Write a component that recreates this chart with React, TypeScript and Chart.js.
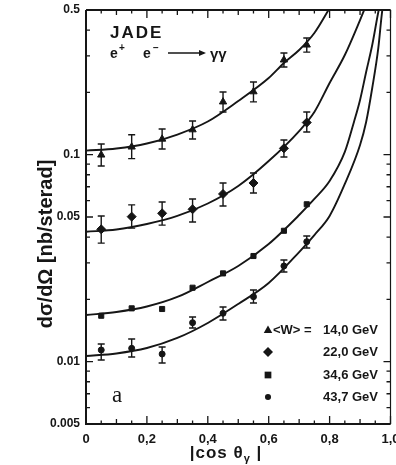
import React, { useEffect, useRef } from "react";
import { Chart, registerables } from "chart.js";

Chart.register(...registerables);

// ---- data ----
const xBins = [0.05, 0.15, 0.25, 0.35, 0.45, 0.55, 0.65, 0.725];

const w140 = [0.0997, 0.109, 0.119, 0.132, 0.18, 0.2015, 0.287, 0.339];
const w140Hi = [0.1127, 0.1249, 0.133, 0.1455, 0.2009, 0.2245, 0.31, 0.366];
const w140Lo = [0.0882, 0.0957, 0.1066, 0.119, 0.1608, 0.18, 0.265, 0.313];

const w220 = [0.0436, 0.0502, 0.0521, 0.0545, 0.0646, 0.073, 0.1073, 0.143];
const w220Hi = [0.0506, 0.0572, 0.0591, 0.0611, 0.073, 0.0816, 0.1178, 0.1608];
const w220Lo = [0.0374, 0.0442, 0.0457, 0.0473, 0.0565, 0.0653, 0.0975, 0.1287];

const w346 = [0.01667, 0.0181, 0.01797, 0.02277, 0.0267, 0.0324, 0.0429, 0.0576];

const w437 = [0.01139, 0.0116, 0.01089, 0.01543, 0.01713, 0.0206, 0.029, 0.038];
const w437Hi = [0.01218, 0.01287, 0.01178, 0.01644, 0.01837, 0.0222, 0.031, 0.0405];
const w437Lo = [0.01019, 0.01053, 0.00986, 0.01455, 0.0159, 0.0192, 0.0271, 0.0354];

const fitX140 = [0, 0.1, 0.2, 0.3, 0.4, 0.5, 0.6, 0.65, 0.7, 0.75, 0.8];
const fit140 = [0.1046, 0.1071, 0.1132, 0.1251, 0.1446, 0.1817, 0.2347, 0.2773, 0.3204, 0.3871, 0.51];

const fitX220 = [0, 0.1, 0.2, 0.3, 0.4, 0.5, 0.6, 0.7, 0.75, 0.8, 0.85, 0.9, 0.92];
const fit220 = [0.04246, 0.0435, 0.04626, 0.0506, 0.0581, 0.0706, 0.0932, 0.1301, 0.1608, 0.222, 0.303, 0.447, 0.528];

const fitX346 = [0, 0.1, 0.2, 0.3, 0.4, 0.5, 0.6, 0.7, 0.75, 0.8, 0.85, 0.88, 0.9, 0.92, 0.94, 0.96, 0.965];
const fit346 = [0.01681, 0.01738, 0.01847, 0.02054, 0.02427, 0.029, 0.03704, 0.0511, 0.0611, 0.0746, 0.1031, 0.1439, 0.1837, 0.2509, 0.3387, 0.489, 0.528];

const fitX437 = [0, 0.1, 0.2, 0.3, 0.4, 0.5, 0.6, 0.7, 0.75, 0.8, 0.85, 0.9, 0.92, 0.94, 0.96, 0.97, 0.975];
const fit437 = [0.01065, 0.01096, 0.01164, 0.01302, 0.01538, 0.019, 0.024, 0.03386, 0.0409, 0.0506, 0.0722, 0.1114, 0.1439, 0.21, 0.3277, 0.457, 0.528];

const xTickValues = [0, 0.2, 0.4, 0.6, 0.8, 1.0];
const xTickLabels = ["0", "0,2", "0,4", "0,6", "0,8", "1,0"];
const yTickValues = [0.005, 0.01, 0.05, 0.1, 0.5];
const yTickLabels = ["0.005", "0.01", "0.05", "0.1", "0.5"];
const legendLabels = ["14,0 GeV", "22,0 GeV", "34,6 GeV", "43,7 GeV"];
const legendPrefix = "<W> =";
const legendStyles = ["triangle", "rectRot", "rect", "circle"];

const ink = "#161616";
const FONT = '"Liberation Sans", "DejaVu Sans", sans-serif';

const pts = (xs: number[], ys: number[]) => xs.map((x, i) => ({ x, y: ys[i] }));

const errorSets: { [k: string]: { hi: number[]; lo: number[] } } = {
  w140: { hi: w140Hi, lo: w140Lo },
  w220: { hi: w220Hi, lo: w220Lo },
  w437: { hi: w437Hi, lo: w437Lo },
};

function drawMarker(ctx: CanvasRenderingContext2D, style: string, x: number, y: number, r: number) {
  ctx.beginPath();
  if (style === "triangle") {
    ctx.moveTo(x, y - r);
    ctx.lineTo(x + r * 0.95, y + r * 0.65);
    ctx.lineTo(x - r * 0.95, y + r * 0.65);
  } else if (style === "rectRot") {
    ctx.moveTo(x, y - r);
    ctx.lineTo(x + r, y);
    ctx.lineTo(x, y + r);
    ctx.lineTo(x - r, y);
  } else if (style === "rect") {
    ctx.rect(x - r * 0.8, y - r * 0.8, r * 1.6, r * 1.6);
  } else {
    ctx.arc(x, y, r * 0.8, 0, Math.PI * 2);
  }
  ctx.closePath();
  ctx.fill();
}

const decorPlugin = {
  id: "decor",
  afterDatasetsDraw(chart: any) {
    const { ctx, chartArea: a, scales } = chart;
    const xs = scales.x;
    const ys = scales.y;
    ctx.save();
    ctx.strokeStyle = ink;
    ctx.fillStyle = ink;

    // error bars
    ctx.lineWidth = 1.4;
    chart.data.datasets.forEach((ds: any) => {
      const e = errorSets[ds.label];
      if (!e) return;
      xBins.forEach((xv, j) => {
        const px = xs.getPixelForValue(xv);
        const t = ys.getPixelForValue(e.hi[j]);
        const b = ys.getPixelForValue(e.lo[j]);
        ctx.beginPath();
        ctx.moveTo(px, t);
        ctx.lineTo(px, b);
        ctx.moveTo(px - 3.5, t);
        ctx.lineTo(px + 3.5, t);
        ctx.moveTo(px - 3.5, b);
        ctx.lineTo(px + 3.5, b);
        ctx.stroke();
      });
    });

    // frame
    ctx.lineWidth = 2;
    ctx.beginPath();
    ctx.moveTo(a.left, a.top);
    ctx.lineTo(a.left, a.bottom);
    ctx.lineTo(a.right, a.bottom);
    ctx.moveTo(a.left, a.top);
    ctx.lineTo(a.right, a.top);
    ctx.stroke();
    ctx.lineWidth = 1.2;
    ctx.beginPath();
    ctx.moveTo(a.right, a.top);
    ctx.lineTo(a.right, a.bottom);
    ctx.stroke();

    // inward ticks on x (bottom + top)
    ctx.lineWidth = 1.3;
    for (let k = 0; k <= 20; k++) {
      const v = k * 0.05;
      const px = xs.getPixelForValue(v);
      const len = k % 4 === 0 ? 8 : k % 2 === 0 ? 5 : 3.5;
      ctx.beginPath();
      ctx.moveTo(px, a.bottom);
      ctx.lineTo(px, a.bottom - len);
      ctx.moveTo(px, a.top);
      ctx.lineTo(px, a.top + len);
      ctx.stroke();
    }
    // inward ticks on y (left + right)
    [0.001, 0.01, 0.1].forEach((d) => {
      for (let m = 1; m <= 9; m++) {
        const v = m * d;
        if (v < 0.005 - 1e-9 || v > 0.5 + 1e-9) continue;
        const py = ys.getPixelForValue(v);
        const len = m === 1 || m === 5 ? 7 : 4;
        ctx.beginPath();
        ctx.moveTo(a.left, py);
        ctx.lineTo(a.left + len, py);
        ctx.moveTo(a.right, py);
        ctx.lineTo(a.right - len, py);
        ctx.stroke();
      }
    });

    // legend
    const rowsY = [330, 352, 375, 397];
    ctx.font = `bold 13px ${FONT}`;
    ctx.textBaseline = "middle";
    legendLabels.forEach((lab, i) => {
      const sz = [4.5, 5, 4.2, 3.8][i];
      drawMarker(ctx, legendStyles[i], 268, rowsY[i], sz);
      ctx.textAlign = "right";
      ctx.fillText(lab, 378, rowsY[i]);
    });
    ctx.textAlign = "left";
    ctx.fillText(legendPrefix, 273, rowsY[0]);

    // JADE label and reaction
    ctx.textBaseline = "alphabetic";
    ctx.textAlign = "left";
    ctx.font = `bold 17px ${FONT}`;
    (ctx as any).letterSpacing = "2px";
    ctx.fillText("JADE", 110, 38);
    (ctx as any).letterSpacing = "0px";
    ctx.font = `bold 14px ${FONT}`;
    ctx.fillText("e", 110, 58);
    ctx.fillText("e", 143, 58);
    ctx.font = `bold 10px ${FONT}`;
    ctx.fillText("+", 119, 51);
    ctx.fillText("\u2212", 153, 51);
    ctx.lineWidth = 1.6;
    ctx.beginPath();
    ctx.moveTo(168, 53);
    ctx.lineTo(204, 53);
    ctx.stroke();
    ctx.beginPath();
    ctx.moveTo(206, 53);
    ctx.lineTo(199, 50);
    ctx.lineTo(199, 56);
    ctx.closePath();
    ctx.fill();
    ctx.font = `bold 15px ${FONT}`;
    ctx.fillText("\u03b3\u03b3", 210, 59);

    // panel letter
    ctx.font = `23px "Liberation Serif", "DejaVu Serif", serif`;
    ctx.fillText("a", 112, 402);

    // axis titles
    ctx.font = `bold 20px ${FONT}`;
    ctx.save();
    ctx.translate(46, 244);
    ctx.rotate(-Math.PI / 2);
    ctx.textAlign = "center";
    ctx.textBaseline = "middle";
    ctx.fillText("d\u03c3/d\u03a9 [nb/sterad]", 0, 0);
    ctx.restore();

    ctx.textAlign = "left";
    ctx.textBaseline = "alphabetic";
    ctx.font = `bold 17px ${FONT}`;
    (ctx as any).letterSpacing = "1px";
    const part1 = "|cos \u03b8";
    const w1 = ctx.measureText(part1).width;
    ctx.font = `bold 11px ${FONT}`;
    const w2 = ctx.measureText("\u03b3").width;
    ctx.font = `bold 17px ${FONT}`;
    const w3 = ctx.measureText(" |").width;
    let sx = 226 - (w1 + w2 + w3) / 2;
    ctx.fillText(part1, sx, 458);
    sx += w1;
    ctx.font = `bold 11px ${FONT}`;
    ctx.fillText("\u03b3", sx, 462);
    sx += w2;
    ctx.font = `bold 17px ${FONT}`;
    ctx.fillText(" |", sx, 458);
    (ctx as any).letterSpacing = "0px";

    ctx.restore();
  },
};

export default function App() {
  const ref = useRef<HTMLCanvasElement | null>(null);

  useEffect(() => {
    if (!ref.current) return;
    const curve = (label: string, xs: number[], ys: number[]) => ({
      label,
      data: pts(xs, ys),
      showLine: true,
      borderColor: ink,
      borderWidth: 1.9,
      pointRadius: 0,
      tension: 0.4,
      cubicInterpolationMode: "monotone",
      fill: false,
    });
    const marks = (label: string, ys: number[], style: string, r: number) => ({
      label,
      data: pts(xBins, ys),
      showLine: false,
      pointStyle: style,
      pointRadius: r,
      backgroundColor: ink,
      borderColor: ink,
      borderWidth: 1,
    });

    const chart = new Chart(ref.current, {
      type: "scatter",
      data: {
        datasets: [
          curve("fit140", fitX140, fit140),
          curve("fit220", fitX220, fit220),
          curve("fit346", fitX346, fit346),
          curve("fit437", fitX437, fit437),
          marks("w140", w140, "triangle", 4.2),
          marks("w220", w220, "rectRot", 4.5),
          marks("w346", w346, "rect", 3.6),
          marks("w437", w437, "circle", 3),
        ] as any,
      },
      options: {
        animation: false,
        responsive: false,
        devicePixelRatio: 1,
        layout: { padding: { top: 10, right: 1, left: 0, bottom: 0 } },
        plugins: { legend: { display: false }, tooltip: { enabled: false } },
        scales: {
          x: {
            type: "linear",
            min: 0,
            max: 1,
            grid: { display: false, drawTicks: false },
            border: { display: false },
            afterBuildTicks: (s: any) => {
              s.ticks = xTickValues.map((v) => ({ value: v }));
            },
            afterFit: (s: any) => {
              s.height = 41;
              s.paddingLeft = 0;
              s.paddingRight = 0;
            },
            ticks: {
              color: ink,
              padding: 8,
              maxRotation: 0,
              autoSkip: false,
              font: { family: FONT, size: 13, weight: "bold" },
              callback: (v: any) => xTickLabels[xTickValues.indexOf(Number(v))] ?? "",
            },
          },
          y: {
            type: "logarithmic",
            min: 0.005,
            max: 0.5,
            grid: { display: false, drawTicks: false },
            border: { display: false },
            afterBuildTicks: (s: any) => {
              s.ticks = yTickValues.map((v) => ({ value: v }));
            },
            afterFit: (s: any) => {
              s.width = 86;
              s.paddingTop = 0;
              s.paddingBottom = 0;
            },
            ticks: {
              color: ink,
              padding: 6,
              autoSkip: false,
              font: { family: FONT, size: 12, weight: "bold" },
              callback: (v: any) => {
                const i = yTickValues.findIndex((t) => Math.abs(t - Number(v)) < 1e-9);
                return i >= 0 ? yTickLabels[i] : "";
              },
            },
          },
        },
      } as any,
      plugins: [decorPlugin],
    });
    return () => chart.destroy();
  }, []);

  return (
    <div style={{ position: "absolute", left: 0, top: 0, width: 396, height: 465, background: "#fff" }}>
      <canvas ref={ref} width={396} height={465} style={{ width: 396, height: 465 }} />
    </div>
  );
}
